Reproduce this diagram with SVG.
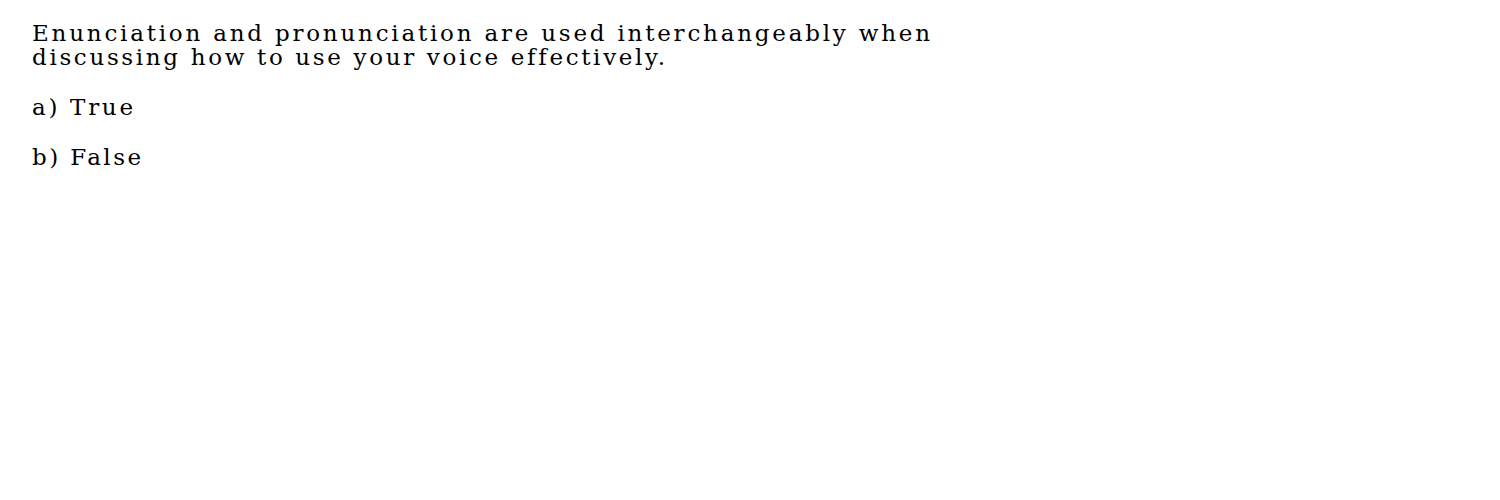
<svg xmlns="http://www.w3.org/2000/svg" width="1500" height="500" viewBox="0 0 1500 500">
<style>
text { font-family: "DejaVu Serif", "Liberation Serif", serif; font-size: 23px; fill: #000; font-variant-ligatures: none; }
</style>
<rect width="1500" height="500" fill="#fff"/>
<g id="question">
<text x="32" y="41" textLength="898" lengthAdjust="spacing">Enunciation and pronunciation are used interchangeably when</text>
<text x="32" y="65" textLength="633" lengthAdjust="spacing">discussing how to use your voice effectively.</text>
</g>
<g id="option-a">
<text x="32" y="115" textLength="101" lengthAdjust="spacing">a) True</text>
</g>
<g id="option-b">
<text x="32" y="165" textLength="109" lengthAdjust="spacing">b) False</text>
</g>
</svg>
